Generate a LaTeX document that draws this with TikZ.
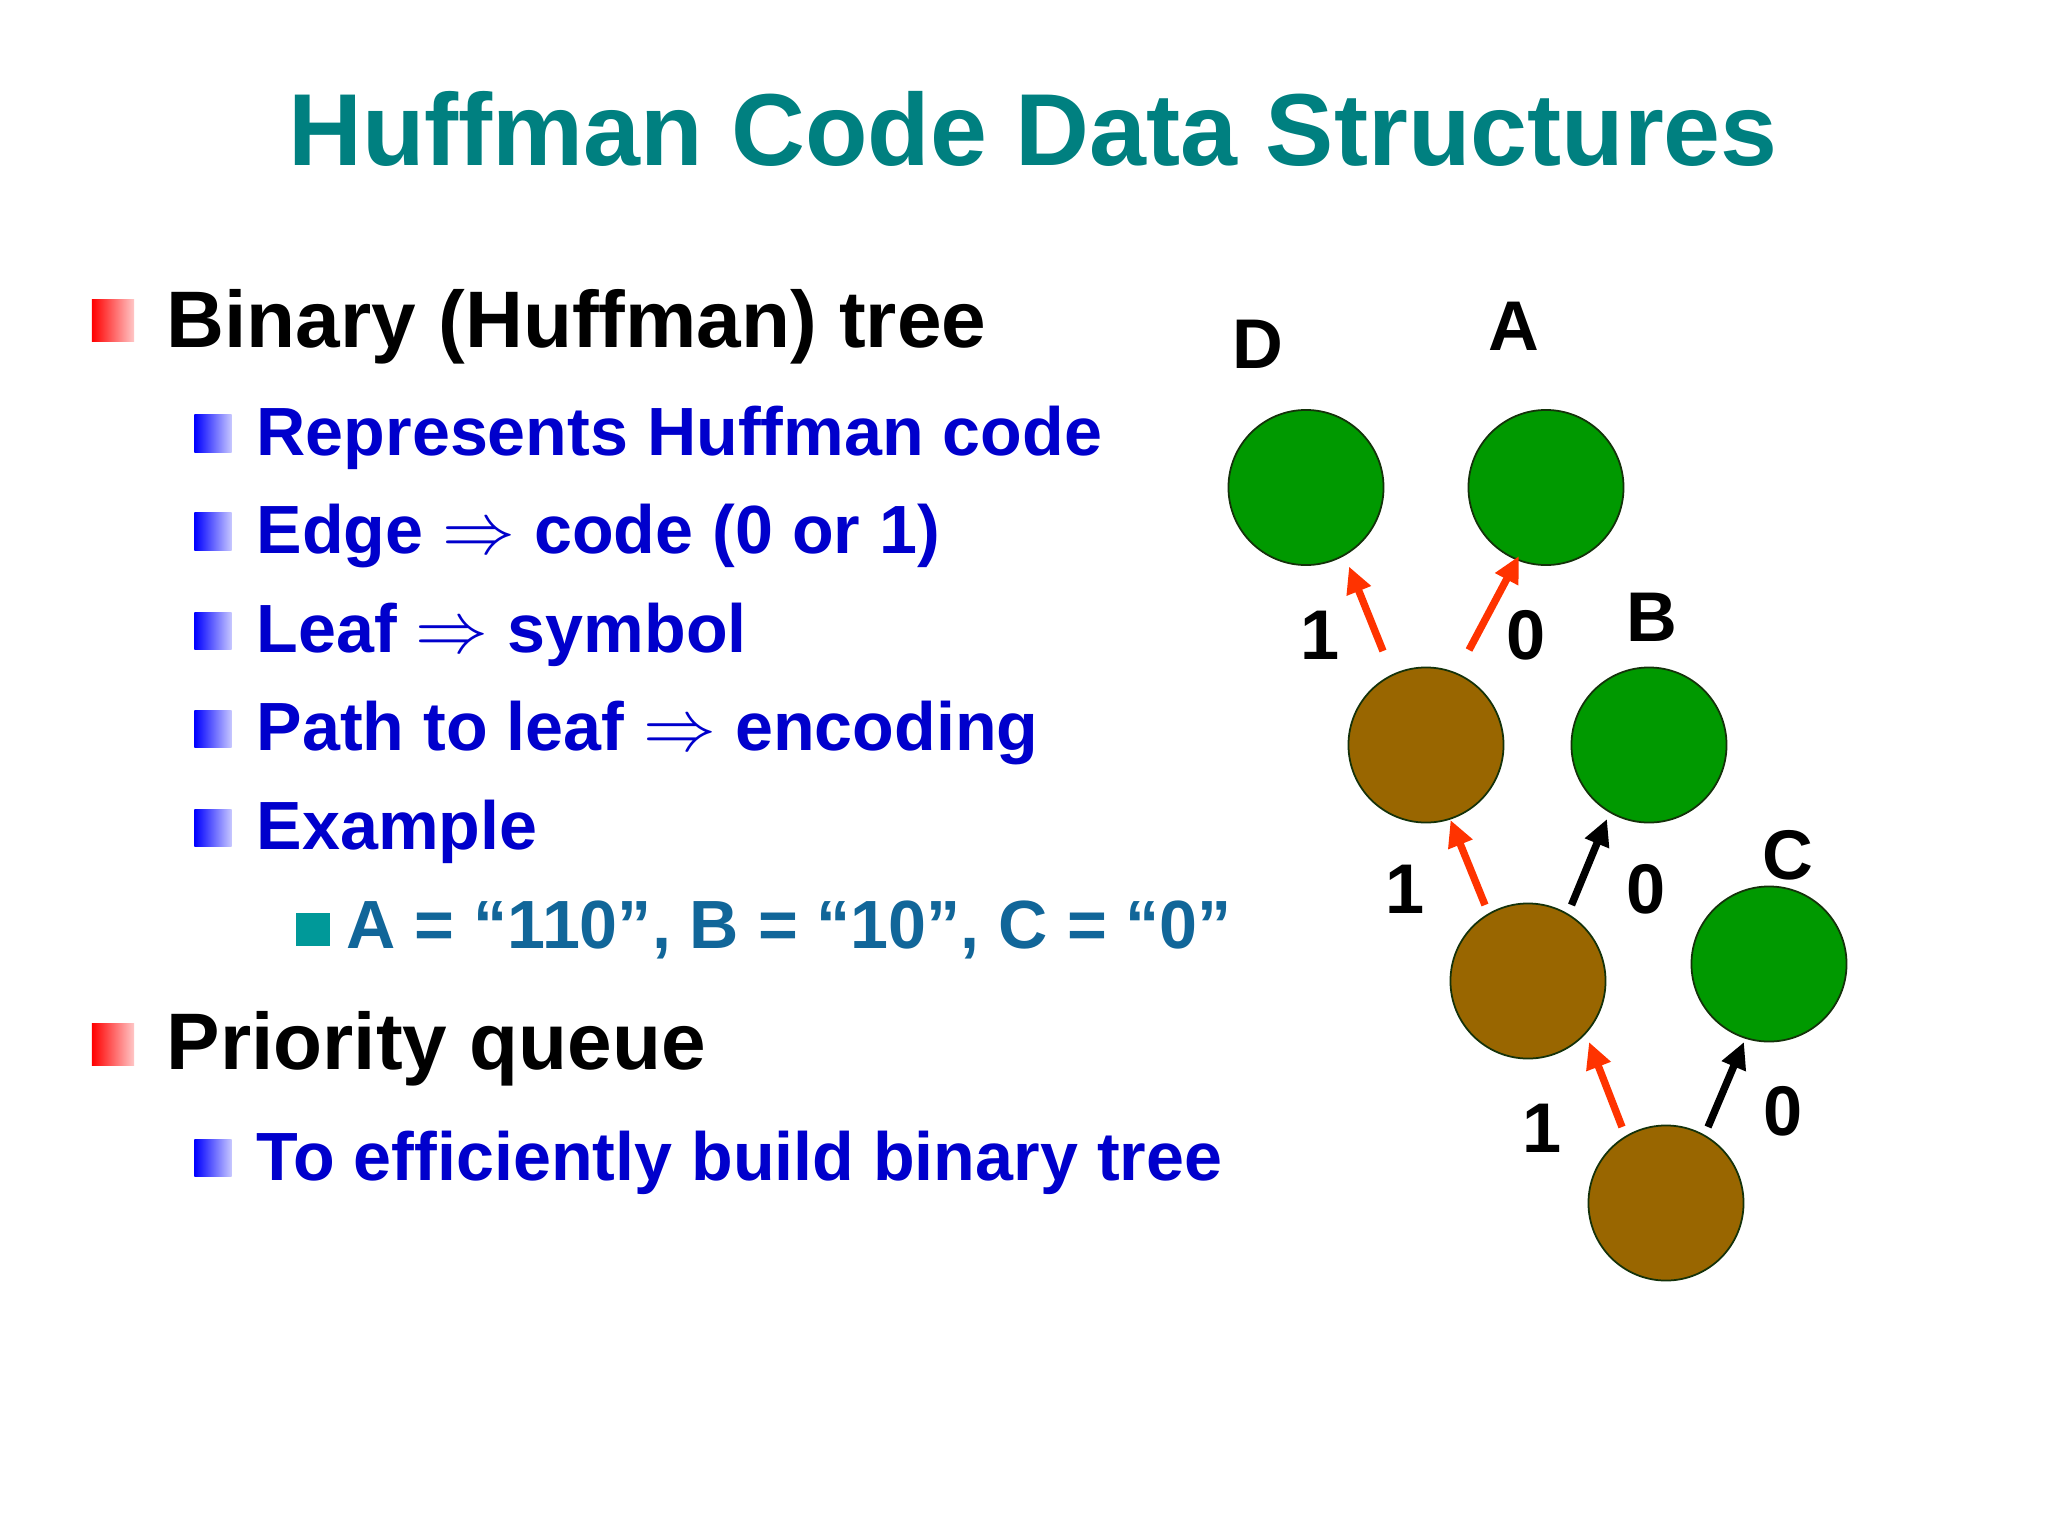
\documentclass[tikz,border=0pt]{standalone}
\usepackage{fontspec}
\setmainfont{Liberation Sans}
\usepackage{tikz}
\usepackage{xcolor}
\usetikzlibrary{positioning, arrows.meta}
\definecolor{hfteal}{RGB}{0, 128, 128}
\definecolor{hfblue}{RGB}{0, 0, 204}
\definecolor{hfcode}{RGB}{17, 102, 153}
\definecolor{hfsquare}{RGB}{0, 153, 153}
\definecolor{hfgreen}{RGB}{0, 153, 0}
\definecolor{hfbrown}{RGB}{153, 102, 0}
\definecolor{hfedge}{RGB}{20, 50, 10}
\definecolor{hfred}{RGB}{255, 51, 0}
\tikzset{
    hfnode/.style={circle, draw=hfedge, line width=0.5pt, minimum size=1.55cm, inner sep=0pt},
    leafnode/.style={hfnode, fill=hfgreen},
    innernode/.style={hfnode, fill=hfbrown},
    symlabel/.style={anchor=base, inner sep=0pt, font=\fontsize{20}{24}\selectfont\bfseries},
    onearrow/.style={-{Triangle[length=7.5pt, width=7pt]}, line width=2.1pt, draw=hfred},
    zeroarrow/.style={onearrow, draw=black},
    toptext/.style={anchor=base west, inner sep=0pt, font=\fontsize{22.8}{27}\selectfont\bfseries},
    subtext/.style={anchor=base west, inner sep=0pt, text=hfblue, font=\fontsize{19.4}{23}\selectfont\bfseries},
    codetext/.style={subtext, text=hfcode},
    topsq/.style={rectangle, inner sep=0pt, minimum size=0.42cm, left color=red, right color=red!22},
    subsq/.style={rectangle, inner sep=0pt, minimum size=0.37cm, left color=blue, right color=blue!22},
    codesq/.style={rectangle, inner sep=0pt, minimum size=0.33cm, fill=hfsquare}
}

\begin{document}
\begin{tikzpicture}[x=0.01cm, y=-0.01cm]
    \fill[white] (0,0) rectangle (2048,1536);
    \useasboundingbox (0,0) rectangle (2048,1536);

    % Title
    \node[anchor=base, inner sep=0pt, text=hfteal, font=\fontsize{29.1}{35}\selectfont\bfseries] (title) at (1033,165) {Huffman Code Data Structures};

    % Bullet list
    \node[topsq] (sq1) at (113,320.5) {};
    \node[toptext] (tree) at (166,347) {Binary (Huffman) tree};
    \node[subsq] (sq2) at (213,433.5) {};
    \node[subtext] (repr) at (256,455) {Represents Huffman code};
    \node[subsq] (sq3) at (213,531.5) {};
    \node[subtext] (edge) at (256,553) {Edge $\Rightarrow$ code (0 or 1)};
    \node[subsq] (sq4) at (213,630.5) {};
    \node[subtext] (leaf) at (256,652) {Leaf $\Rightarrow$ symbol};
    \node[subsq] (sq5) at (213,728.5) {};
    \node[subtext] (path) at (256,750) {Path to leaf $\Rightarrow$ encoding};
    \node[subsq] (sq6) at (213,827.5) {};
    \node[subtext] (example) at (256,849) {Example};
    \node[codesq] (sq7) at (313,929) {};
    \node[codetext] (codes) at (346,948) {A = “110”, B = “10”, C = “0”};
    \node[topsq] (sq8) at (113,1044.5) {};
    \node[toptext] (queue) at (166,1069) {Priority queue};
    \node[subsq] (sq9) at (213,1158) {};
    \node[subtext] (build) at (256,1180) {To efficiently build binary tree};

    % Huffman tree, root at the bottom
    \node[leafnode] (d) at (1306,487.5) {};
    \node[leafnode] (a) at (1546,487.5) {};
    \node[innernode] (n1) at (1426,745) {};
    \node[leafnode] (b) at (1649,745) {};
    \node[innernode] (n2) at (1528,981) {};
    \node[leafnode] (c) at (1769,964) {};
    \node[innernode] (root) at (1666,1203) {};

    % Symbols and bits
    \node[symlabel] (labd) at (1258,368) {D};
    \node[symlabel] (laba) at (1514,350) {A};
    \node[symlabel] (labb) at (1652,641) {B};
    \node[symlabel] (labc) at (1788,879) {C};
    \node[symlabel] (bit1d) at (1320,659) {1};
    \node[symlabel] (bit0a) at (1526,659) {0};
    \node[symlabel] (bit1n) at (1405,913) {1};
    \node[symlabel] (bit0b) at (1646,913) {0};
    \node[symlabel] (bit1r) at (1542,1152) {1};
    \node[symlabel] (bit0c) at (1783,1135) {0};

    % Edges from child up to parent
    \draw[onearrow] ([shift={(-43,-94)}]n1.center) -- ([shift={(43,79)}]d.center);
    \draw[onearrow] ([shift={(43,-95)}]n1.center) -- ([shift={(-27,68.5)}]a.center);
    \draw[onearrow] ([shift={(-43,-76)}]n2.center) -- ([shift={(24.5,75)}]n1.center);
    \draw[zeroarrow] ([shift={(43.5,-76)}]n2.center) -- ([shift={(-42,74)}]b.center);
    \draw[onearrow] ([shift={(-44,-76)}]root.center) -- ([shift={(61,61)}]n2.center);
    \draw[zeroarrow] ([shift={(42,-76)}]root.center) -- ([shift={(-25,78)}]c.center);
\end{tikzpicture}
\end{document}
